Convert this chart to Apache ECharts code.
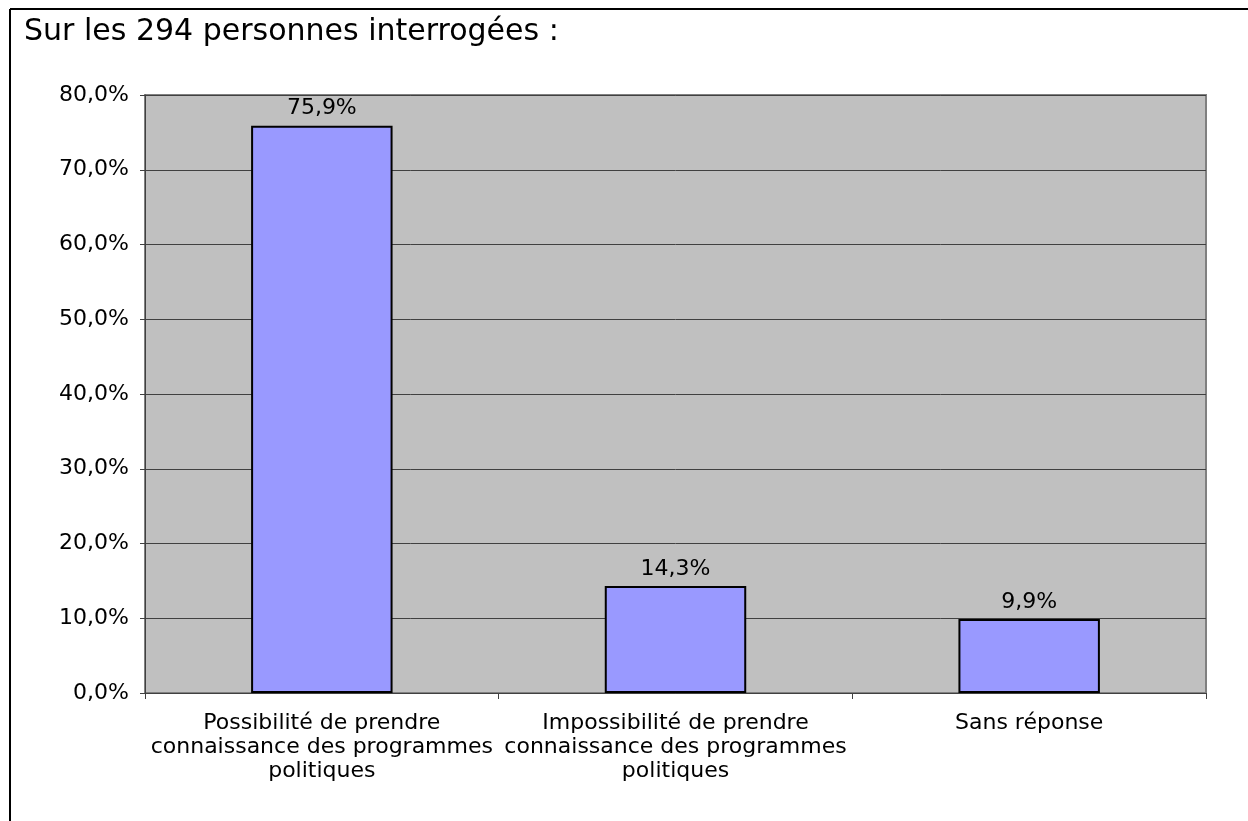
<!DOCTYPE html>
<html>
<head>
<meta charset="utf-8">
<script src="https://cdn.jsdelivr.net/npm/echarts@6/dist/echarts.min.js"></script>
<style>
  html, body { margin: 0; padding: 0; background: #fff; }
  #chart { width: 1248px; height: 821px; }
</style>
</head>
<body>
<div id="chart"></div>
<script>
// données
const categories = [
  'Possibilité de prendre\nconnaissance des programmes\npolitiques',
  'Impossibilité de prendre\nconnaissance des programmes\npolitiques',
  'Sans réponse'
]
const values = [75.9, 14.3, 9.9]
const titleText = 'Sur les 294 personnes interrogées :'

const fmt = (v, d) => v.toFixed(d).replace('.', ',') + '%'
const font = 'DejaVu Sans, Verdana, sans-serif'

const chart = echarts.init(document.getElementById('chart'))

chart.setOption({
  animation: false,
  backgroundColor: '#ffffff',
  textStyle: { fontFamily: font },
  title: {
    text: titleText,
    left: 19,
    top: 12,
    textStyle: { fontSize: 30, fontWeight: 'normal', color: '#000', fontFamily: font }
  },
  graphic: [
    { type: 'line', shape: { x1: 10, y1: 9, x2: 1248, y2: 9 }, style: { stroke: '#000', lineWidth: 2 } },
    { type: 'line', shape: { x1: 10, y1: 9, x2: 10, y2: 821 }, style: { stroke: '#000', lineWidth: 2 } }
  ],
  grid: {
    left: 145,
    right: 42,
    top: 95,
    bottom: 128,
    show: true,
    backgroundColor: '#c0c0c0',
    borderColor: '#808080',
    borderWidth: 2
  },
  xAxis: {
    type: 'category',
    data: categories,
    axisLine: { lineStyle: { color: '#404040', width: 1 } },
    axisTick: { show: true, length: 6, lineStyle: { color: '#404040' } },
    axisLabel: { fontSize: 22, color: '#000', margin: 18, lineHeight: 24, interval: 0 }
  },
  yAxis: {
    type: 'value',
    min: 0,
    max: 80,
    interval: 10,
    axisLine: { show: true, lineStyle: { color: '#404040', width: 1 } },
    axisTick: { show: true, length: 5, lineStyle: { color: '#404040' } },
    splitLine: { lineStyle: { color: '#404040', width: 1 } },
    axisLabel: { fontSize: 22, color: '#000', margin: 16, formatter: v => fmt(v, 1) }
  },
  series: [{
    type: 'bar',
    data: values,
    barWidth: '40%',
    itemStyle: { color: '#9999ff', borderColor: '#000', borderWidth: 2 },
    label: {
      show: true,
      position: 'top',
      distance: 6,
      fontSize: 22,
      color: '#000',
      formatter: p => fmt(p.value, 1)
    }
  }]
})
</script>
</body>
</html>
